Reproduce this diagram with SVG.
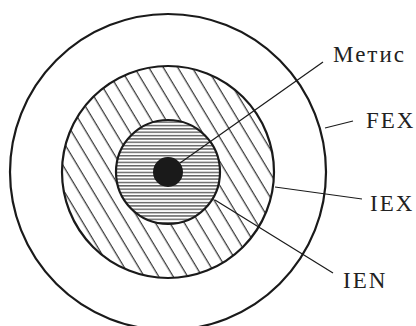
<svg xmlns="http://www.w3.org/2000/svg" width="416" height="326" viewBox="0 0 416 326">
<defs>
<pattern id="diag" patternUnits="userSpaceOnUse" width="12.4" height="20" patternTransform="rotate(-31)">
<line x1="6" y1="-5" x2="6" y2="25" stroke="#1a1a1a" stroke-width="1.1"/>
</pattern>
<pattern id="horiz" patternUnits="userSpaceOnUse" width="20" height="3.35">
<line x1="-5" y1="1.6" x2="25" y2="1.6" stroke="#1a1a1a" stroke-width="1"/>
</pattern>
</defs>
<style>
.ring{fill:none;stroke:#1a1a1a;stroke-width:2.2}
.lead{stroke:#1a1a1a;stroke-width:1.2;fill:none}
.lbl{font-family:"Liberation Serif","Times New Roman",serif;font-size:23px;fill:#222;letter-spacing:2px}
</style>
<rect width="416" height="326" fill="#fff"/>
<g id="fex">
<circle cx="168" cy="172" r="158" class="ring"/>
</g>
<g id="iex">
<circle cx="168" cy="172" r="106" fill="#fff"/>
<circle cx="168" cy="172" r="106" class="ring" style="fill:url(#diag)"/>
</g>
<g id="ien">
<circle cx="168" cy="172" r="52" fill="#fff"/>
<circle cx="168" cy="172" r="52" class="ring" style="fill:url(#horiz)"/>
</g>
<g id="metis">
<circle cx="168" cy="172" r="15" fill="#1a1a1a"/>
</g>
<g id="connectors">
<line class="lead" x1="180" y1="163" x2="323" y2="62"/>
<line class="lead" x1="325" y1="128" x2="353" y2="121"/>
<line class="lead" x1="275" y1="187" x2="362" y2="199"/>
<line class="lead" x1="215" y1="200" x2="333" y2="273"/>
</g>
<g id="labels">
<text class="lbl" x="333" y="62">Метис</text>
<text class="lbl" x="366" y="128">FEX</text>
<text class="lbl" x="370" y="211">IEX</text>
<text class="lbl" x="343" y="288">IEN</text>
</g>
</svg>
